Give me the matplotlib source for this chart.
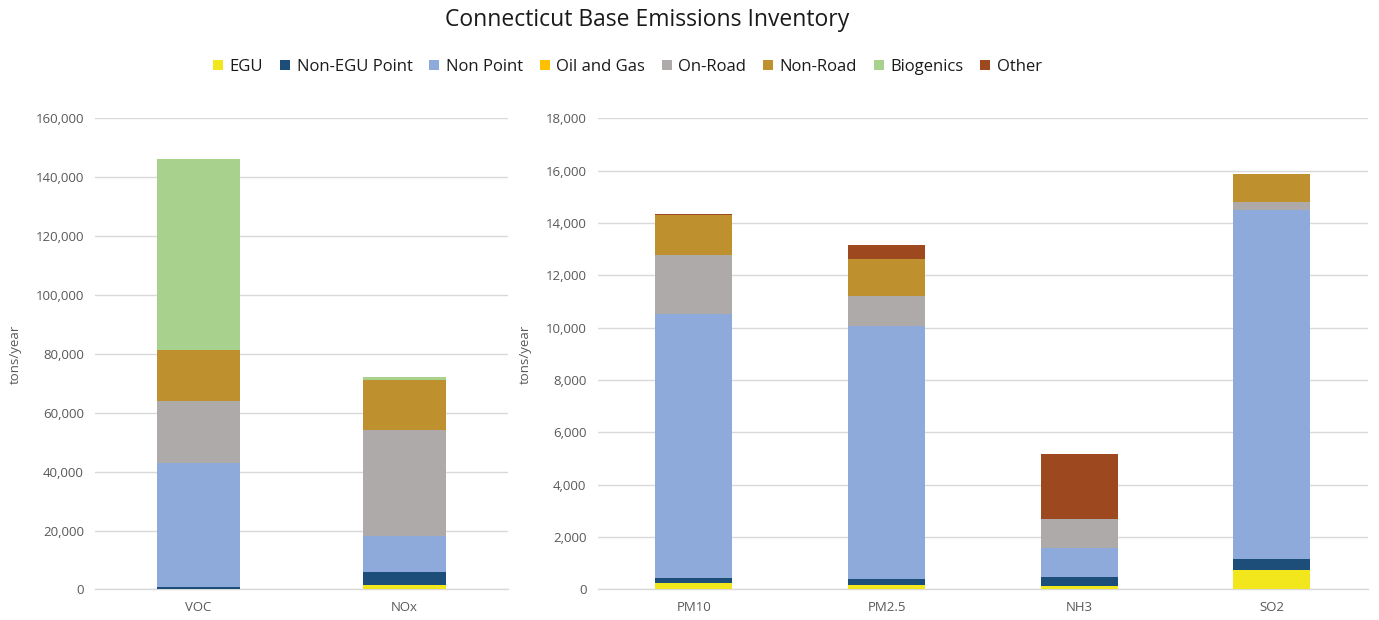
import matplotlib
matplotlib.use("Agg")
import matplotlib.pyplot as plt
from matplotlib.patches import Patch
from matplotlib.ticker import FuncFormatter, MultipleLocator

plt.rcParams['font.family'] = ['Open Sans', 'DejaVu Sans']

# Emission sectors (stack order, bottom to top)
sectors = ['EGU', 'Non-EGU Point', 'Non Point', 'Oil and Gas',
           'On-Road', 'Non-Road', 'Biogenics', 'Other']
sector_colors = ['#f2e61c', '#1d4e79', '#8eaadb', '#ffc000',
                 '#aeaaaa', '#bf902e', '#a9d18e', '#9e4820']

# Ozone precursors (tons/year)
left_pollutants = ['VOC', 'NOx']
left_egu = [0, 1400]
left_non_egu = [900, 4600]
left_non_point = [42200, 12200]
left_oil_gas = [0, 0]
left_on_road = [21100, 36000]
left_non_road = [17100, 17000]
left_biogenics = [64800, 1100]
left_other = [300, 0]

# Particulates, ammonia and sulfur dioxide (tons/year)
right_pollutants = ['PM10', 'PM2.5', 'NH3', 'SO2']
right_egu = [230, 180, 140, 730]
right_non_egu = [220, 225, 340, 420]
right_non_point = [10060, 9675, 1120, 13360]
right_oil_gas = [0, 0, 0, 0]
right_on_road = [2270, 1120, 1100, 290]
right_non_road = [1540, 1420, 0, 1090]
right_biogenics = [0, 0, 0, 0]
right_other = [30, 560, 2480, 0]

left_series = [left_egu, left_non_egu, left_non_point, left_oil_gas,
               left_on_road, left_non_road, left_biogenics, left_other]
right_series = [right_egu, right_non_egu, right_non_point, right_oil_gas,
                right_on_road, right_non_road, right_biogenics, right_other]

text_gray = '#595959'
grid_gray = '#d9d9d9'

fig = plt.figure(figsize=(13.79, 6.2), dpi=100)
ax_left = fig.add_axes([0.0690, 0.0492, 0.2991, 0.7597])
ax_right = fig.add_axes([0.4334, 0.0492, 0.5586, 0.7597])


def stacked(ax, cats, series, ymax, step):
    x = list(range(len(cats)))
    bottom = [0.0] * len(cats)
    for vals, color in zip(series, sector_colors):
        ax.bar(x, vals, width=0.40, bottom=bottom, color=color,
               edgecolor='none', linewidth=0, zorder=3)
        bottom = [b + v for b, v in zip(bottom, vals)]
    ax.set_xlim(-0.5, len(cats) - 0.5)
    ax.set_ylim(0, ymax)
    ax.yaxis.set_major_locator(MultipleLocator(step))
    ax.yaxis.set_major_formatter(FuncFormatter(lambda v, p: f'{int(v):,}'))
    ax.set_xticks(x)
    ax.set_xticklabels(cats)
    ax.grid(axis='y', color=grid_gray, linewidth=1.0, zorder=0)
    for side in ['top', 'right', 'left']:
        ax.spines[side].set_visible(False)
    ax.spines['bottom'].set_color(grid_gray)
    ax.spines['bottom'].set_linewidth(1.0)
    ax.tick_params(axis='both', length=0, labelsize=9.5, colors=text_gray)
    ax.tick_params(axis='y', pad=8)
    ax.tick_params(axis='x', pad=8)
    ax.set_ylabel('tons/year', fontsize=9.5, color=text_gray, labelpad=10)


stacked(ax_left, left_pollutants, left_series, 160000, 20000)
stacked(ax_right, right_pollutants, right_series, 18000, 2000)

fig.text(0.469, 0.968, 'Connecticut Base Emissions Inventory',
         ha='center', va='center', fontsize=16.5, color='#1a1a1a')

handles = [Patch(facecolor=c, edgecolor='none') for c in sector_colors]
fig.legend(handles, sectors, loc='center', bbox_to_anchor=(0.455, 0.892),
           ncol=8, frameon=False, fontsize=12, handlelength=0.6,
           handleheight=0.6, handletextpad=0.4, columnspacing=1.0,
           labelcolor='#1a1a1a')

fig.savefig('out.png', dpi=100)
